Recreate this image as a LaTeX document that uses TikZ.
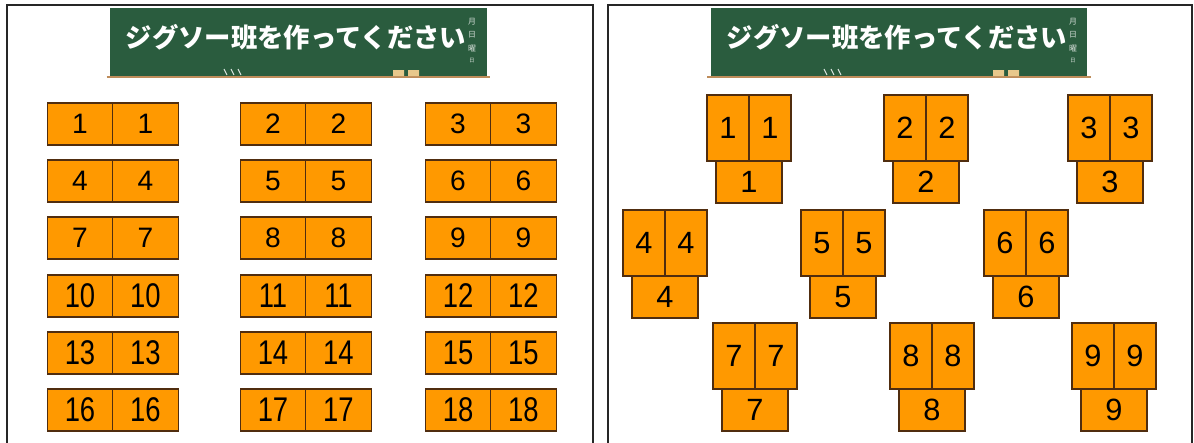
\documentclass[tikz,border=0pt]{standalone}
\usepackage{fontspec}
\setmainfont{Liberation Sans}
\newfontfamily\jp{Noto Sans CJK JP}
\newfontfamily\narrowdigits{Liberation Sans}[FakeStretch=0.8]
\usetikzlibrary{positioning}

\definecolor{boardgreen}{RGB}{42,92,62}
\definecolor{deskorange}{RGB}{255,153,0}
\definecolor{deskedge}{RGB}{80,45,15}
\definecolor{ledgebrown}{RGB}{190,140,90}
\definecolor{chalktan}{RGB}{232,200,140}

\begin{document}
\begin{tikzpicture}[
  x=0.02cm, y=-0.02cm,
  desk/.style={rectangle, draw=deskedge, fill=deskorange, line width=0.6pt, outer sep=0pt, inner sep=0pt},
  rowdesk/.style={desk, minimum width=1.31cm, minimum height=0.84cm, font=\fontsize{16}{16}\selectfont},
  rowdeskw/.style={rowdesk, font=\narrowdigits\fontsize{19.5}{19.5}\selectfont},
  talldesk/.style={desk, minimum width=0.84cm, minimum height=1.32cm, font=\fontsize{17.5}{17.5}\selectfont},
  enddesk/.style={desk, minimum width=1.32cm, minimum height=0.84cm, anchor=north, font=\fontsize{17.5}{17.5}\selectfont},
  board/.style={rectangle, fill=boardgreen, minimum width=7.54cm, minimum height=1.38cm, inner sep=0pt},
  title/.style={text=white, font=\jp\bfseries\fontsize{15}{15}\selectfont},
  datemark/.style={text=white!80!boardgreen, font=\jp\fontsize{4.5}{4.5}\selectfont, inner sep=0pt},
  ledge/.style={draw=ledgebrown, line width=1.3pt},
  chalk/.style={draw=white!85!boardgreen, line width=0.6pt},
  frame/.style={draw=black!85, line width=1.2pt},
]
\useasboundingbox (0,0) rectangle (1194,443);

% ══ Column / row positions (left panel) ══
\def\ca{80}
\def\cb{273}
\def\cc{458}

% ══ Left panel: blackboard ══
\node[board] (lboard) at (298.5,42.5) {};
\draw[ledge] ([xshift=-0.06cm]lboard.south west) -- ([xshift=0.06cm]lboard.south east);
\node[title] (ltitle) at (296,37) {ジグソー班を作ってください};
\node[datemark] (lm1) at (472,22) {月};
\node[datemark] (lm2) at (472,35) {日};
\node[datemark] (lm3) at (472,49) {曜};
\node[datemark, scale=0.7] (lm4) at (472,61) {日};
\draw[chalk] (224,69) -- (227,75) (231,69) -- (234,75) (238,69) -- (241,75);
\fill[chalktan] (393,70) rectangle (404,76) (408,70) rectangle (419,76);

% ══ Left panel: desks in rows ══
\node[rowdesk] (t1a) at (\ca,124) {1};   \node[rowdesk, right=0pt of t1a] (t1b) {1};
\node[rowdesk] (t2a) at (\cb,124) {2};   \node[rowdesk, right=0pt of t2a] (t2b) {2};
\node[rowdesk] (t3a) at (\cc,124) {3};   \node[rowdesk, right=0pt of t3a] (t3b) {3};

\node[rowdesk] (t4a) at (\ca,181) {4};   \node[rowdesk, right=0pt of t4a] (t4b) {4};
\node[rowdesk] (t5a) at (\cb,181) {5};   \node[rowdesk, right=0pt of t5a] (t5b) {5};
\node[rowdesk] (t6a) at (\cc,181) {6};   \node[rowdesk, right=0pt of t6a] (t6b) {6};

\node[rowdesk] (t7a) at (\ca,238) {7};   \node[rowdesk, right=0pt of t7a] (t7b) {7};
\node[rowdesk] (t8a) at (\cb,238) {8};   \node[rowdesk, right=0pt of t8a] (t8b) {8};
\node[rowdesk] (t9a) at (\cc,238) {9};   \node[rowdesk, right=0pt of t9a] (t9b) {9};

\node[rowdeskw] (t10a) at (\ca,296) {10}; \node[rowdeskw, right=0pt of t10a] (t10b) {10};
\node[rowdeskw] (t11a) at (\cb,296) {11}; \node[rowdeskw, right=0pt of t11a] (t11b) {11};
\node[rowdeskw] (t12a) at (\cc,296) {12}; \node[rowdeskw, right=0pt of t12a] (t12b) {12};

\node[rowdeskw] (t13a) at (\ca,353) {13}; \node[rowdeskw, right=0pt of t13a] (t13b) {13};
\node[rowdeskw] (t14a) at (\cb,353) {14}; \node[rowdeskw, right=0pt of t14a] (t14b) {14};
\node[rowdeskw] (t15a) at (\cc,353) {15}; \node[rowdeskw, right=0pt of t15a] (t15b) {15};

\node[rowdeskw] (t16a) at (\ca,410) {16}; \node[rowdeskw, right=0pt of t16a] (t16b) {16};
\node[rowdeskw] (t17a) at (\cb,410) {17}; \node[rowdeskw, right=0pt of t17a] (t17b) {17};
\node[rowdeskw] (t18a) at (\cc,410) {18}; \node[rowdeskw, right=0pt of t18a] (t18b) {18};

% Left panel frame
\draw[frame] (7,443) -- (7,5) -- (593,5) -- (593,443);

% ══ Right panel: blackboard ══
\node[board] (rboard) at (899,42.5) {};
\draw[ledge] ([xshift=-0.06cm]rboard.south west) -- ([xshift=0.06cm]rboard.south east);
\node[title] (rtitle) at (897,37) {ジグソー班を作ってください};
\node[datemark] (rm1) at (1073,22) {月};
\node[datemark] (rm2) at (1073,35) {日};
\node[datemark] (rm3) at (1073,49) {曜};
\node[datemark, scale=0.7] (rm4) at (1073,61) {日};
\draw[chalk] (824,69) -- (827,75) (831,69) -- (834,75) (838,69) -- (841,75);
\fill[chalktan] (993,70) rectangle (1004,76) (1008,70) rectangle (1019,76);

% ══ Right panel: jigsaw groups ══
\node[talldesk] (g1a) at (728,128) {1};  \node[talldesk, right=0pt of g1a] (g1b) {1};
\node[enddesk] (g1c) at (g1a.south east) {1};
\node[talldesk] (g2a) at (905,128) {2};  \node[talldesk, right=0pt of g2a] (g2b) {2};
\node[enddesk] (g2c) at (g2a.south east) {2};
\node[talldesk] (g3a) at (1089,128) {3}; \node[talldesk, right=0pt of g3a] (g3b) {3};
\node[enddesk] (g3c) at (g3a.south east) {3};

\node[talldesk] (g4a) at (644,243) {4};  \node[talldesk, right=0pt of g4a] (g4b) {4};
\node[enddesk] (g4c) at (g4a.south east) {4};
\node[talldesk] (g5a) at (822,243) {5};  \node[talldesk, right=0pt of g5a] (g5b) {5};
\node[enddesk] (g5c) at (g5a.south east) {5};
\node[talldesk] (g6a) at (1005,243) {6}; \node[talldesk, right=0pt of g6a] (g6b) {6};
\node[enddesk] (g6c) at (g6a.south east) {6};

\node[talldesk] (g7a) at (734,356) {7};  \node[talldesk, right=0pt of g7a] (g7b) {7};
\node[enddesk] (g7c) at (g7a.south east) {7};
\node[talldesk] (g8a) at (911,356) {8};  \node[talldesk, right=0pt of g8a] (g8b) {8};
\node[enddesk] (g8c) at (g8a.south east) {8};
\node[talldesk] (g9a) at (1093,356) {9}; \node[talldesk, right=0pt of g9a] (g9b) {9};
\node[enddesk] (g9c) at (g9a.south east) {9};

% Right panel frame
\draw[frame] (608,443) -- (608,5) -- (1192,5) -- (1192,443);

\end{tikzpicture}
\end{document}
